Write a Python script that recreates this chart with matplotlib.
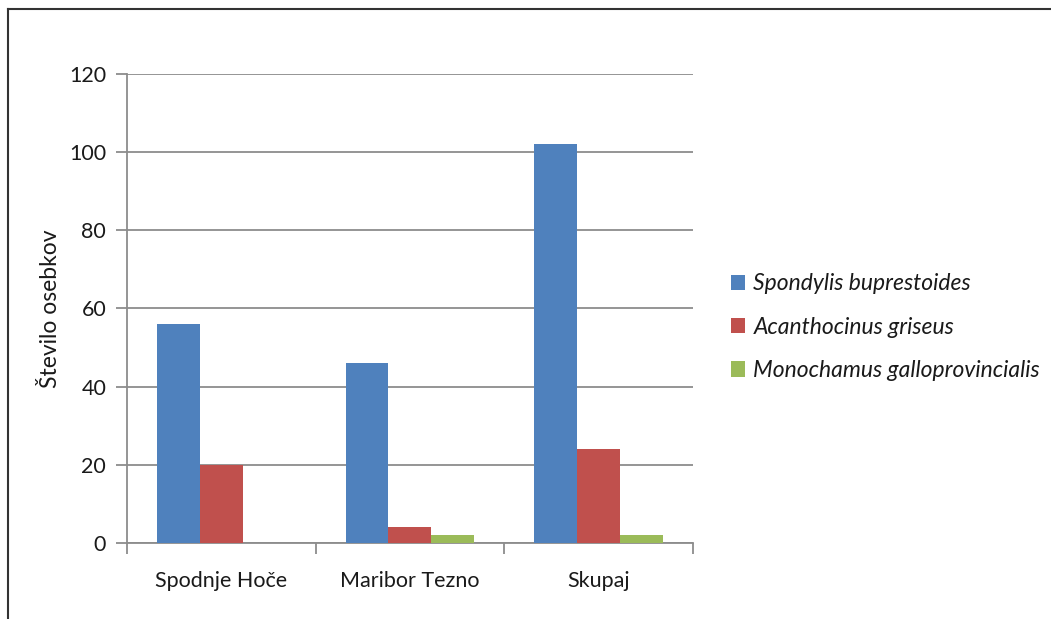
import matplotlib.pyplot as plt
from matplotlib.lines import Line2D
import numpy as np

# data
categories = ['Spodnje Hoče', 'Maribor Tezno', 'Skupaj']
species = ['Spondylis buprestoides', 'Acanthocinus griseus', 'Monochamus galloprovincialis']
spondylis = [56, 46, 102]
acanthocinus = [20, 4, 24]
monochamus = [0, 2, 2]
yTicks = [0, 20, 40, 60, 80, 100, 120]

colors = ['#4f81bd', '#c0504d', '#9bbb59']
gridColor = '#8c8c8c'
textColor = '#1a1a1a'

plt.rcParams['font.family'] = ['Lato', 'DejaVu Sans']

fig = plt.figure(figsize=(10.51, 6.19), dpi=100)
ax = fig.add_axes([0.1208, 0.1228, 0.5385, 0.7577])

x = np.arange(len(categories))
width = 0.2275
for i, (vals, name) in enumerate(zip([spondylis, acanthocinus, monochamus], species)):
    ax.bar(x + (i - 1) * width, vals, width, color=colors[i], label=name, zorder=3)

ax.set_xlim(-0.5, len(categories) - 0.5)
ax.set_ylim(0, 120)
ax.set_yticks(yTicks)
ax.yaxis.grid(True, color=gridColor, linewidth=1.3, zorder=0)

# category labels in the middle, tick marks on the boundaries
ax.set_xticks(np.arange(len(categories) + 1) - 0.5)
ax.set_xticklabels([])
ax.set_xticks(x, minor=True)
ax.set_xticklabels(categories, minor=True, fontsize=15.5, color=textColor)
ax.tick_params(axis='x', which='major', length=8, color=gridColor, width=1.3)
ax.tick_params(axis='x', which='minor', length=0, pad=20)
ax.tick_params(axis='y', length=8, color=gridColor, width=1.3, labelsize=15.5,
               labelcolor=textColor, pad=7)

for side in ['top', 'right']:
    ax.spines[side].set_visible(False)
for side in ['left', 'bottom']:
    ax.spines[side].set_color(gridColor)
    ax.spines[side].set_linewidth(1.3)

ax.set_ylabel('Število osebkov', fontsize=16.5, color=textColor, labelpad=6)

leg = ax.legend(loc='center left', bbox_to_anchor=(1.03, 0.46), frameon=False,
                fontsize=16.5, handlelength=0.65, handleheight=0.65,
                handletextpad=0.35, labelspacing=0.98)
for t in leg.get_texts():
    t.set_fontstyle('italic')
    t.set_color(textColor)

# outer border (top and left only, as in the reference)
fig.add_artist(Line2D([8 / 1051, 1], [1 - 9 / 619, 1 - 9 / 619], color='#333333', linewidth=1.5))
fig.add_artist(Line2D([8 / 1051, 8 / 1051], [0, 1 - 9 / 619], color='#333333', linewidth=1.5))

fig.savefig('out.png', dpi=100)
